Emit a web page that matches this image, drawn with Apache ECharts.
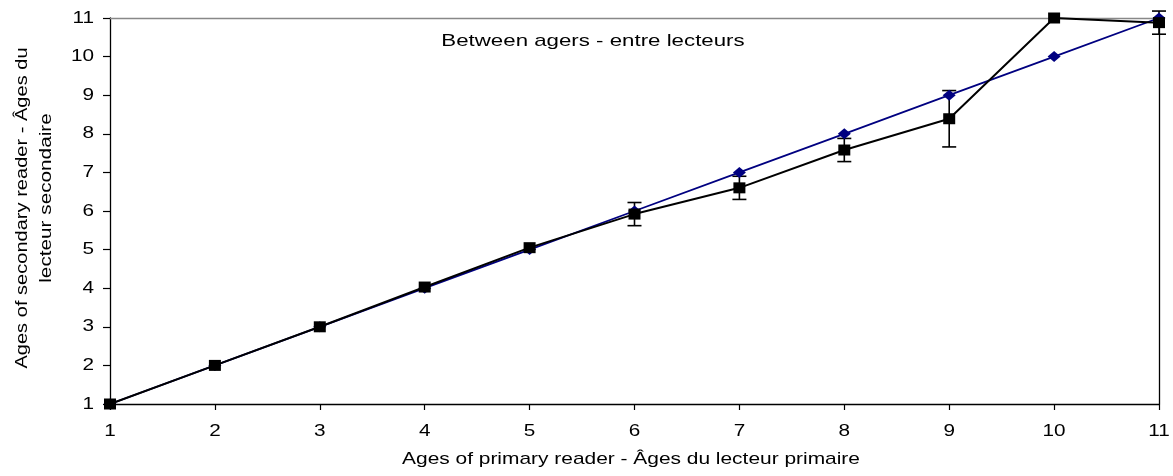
<!DOCTYPE html>
<html>
<head>
<meta charset="utf-8">
<script src="https://cdn.jsdelivr.net/npm/echarts@6/dist/echarts.min.js"></script>
<style>
  html, body { margin: 0; padding: 0; background: #fff; }
  #chart { width: 1173px; height: 476px; }
</style>
</head>
<body>
<div id="chart"></div>
<script>
// Ages assigned by the primary reader (x) vs. the secondary reader (y)
const primaryAges = [1, 2, 3, 4, 5, 6, 7, 8, 9, 10, 11];
const secondaryMean = [1, 2, 3, 4.03, 5.05, 5.92, 6.6, 7.58, 8.39, 11, 10.88];
const secondaryErr = [0, 0, 0, 0, 0, 0.3, 0.3, 0.3, 0.73, 0, 0.3];
const agreementLine = [1, 2, 3, 4, 5, 6, 7, 8, 9, 10, 11];
const tickValues = [1, 2, 3, 4, 5, 6, 7, 8, 9, 10, 11];

const titleText = 'Between agers - entre lecteurs';
const xName = 'Ages of primary reader - Âges du lecteur primaire';
const yNameLines = ['Ages of secondary reader - Âges du', 'lecteur secondaire'];

const FONT = '"Liberation Sans", Arial, sans-serif';
const TEXT_SIZE = 17;

const meanPairs = primaryAges.map((x, i) => [x, secondaryMean[i]]);
const linePairs = primaryAges.map((x, i) => [x, agreementLine[i]]);
const errRows = primaryAges
  .map((x, i) => [x, secondaryMean[i] - secondaryErr[i], secondaryMean[i] + secondaryErr[i]])
  .filter((r, i) => secondaryErr[i] > 0);

const chart = echarts.init(document.getElementById('chart'), null, { renderer: 'canvas' });

const axisCommon = {
  type: 'value',
  min: tickValues[0],
  max: tickValues[tickValues.length - 1],
  interval: 1,
  splitLine: { show: false },
  axisLabel: { show: false }
};

chart.setOption({
  animation: false,
  backgroundColor: '#fff',
  grid: { left: 110, right: 14, top: 18, bottom: 72, containLabel: false },
  xAxis: [
    Object.assign({}, axisCommon, {
      position: 'bottom',
      axisLine: { onZero: false, lineStyle: { color: '#000', width: 1.3 } },
      axisTick: { show: true, inside: false, length: 6, lineStyle: { color: '#000', width: 1.2 } }
    }),
    Object.assign({}, axisCommon, {
      position: 'top',
      axisLine: { onZero: false, lineStyle: { color: '#888', width: 1.3 } },
      axisTick: { show: false }
    })
  ],
  yAxis: [
    Object.assign({}, axisCommon, {
      position: 'left',
      axisLine: { onZero: false, lineStyle: { color: '#000', width: 1.3 } },
      axisTick: { show: true, inside: false, length: 7, lineStyle: { color: '#000', width: 1.2 } }
    }),
    Object.assign({}, axisCommon, {
      position: 'right',
      axisLine: { onZero: false, lineStyle: { color: '#000', width: 1.3 } },
      axisTick: { show: false }
    })
  ],
  series: [
    {
      name: 'error',
      type: 'custom',
      xAxisIndex: 0,
      yAxisIndex: 0,
      z: 1,
      data: errRows,
      encode: { x: 0, y: [1, 2] },
      renderItem: function (params, api) {
        const x = api.value(0);
        const lo = api.coord([x, api.value(1)]);
        const hi = api.coord([x, api.value(2)]);
        const half = 7;
        const style = { stroke: '#000', lineWidth: 1.6 };
        return {
          type: 'group',
          children: [
            { type: 'line', shape: { x1: lo[0], y1: lo[1], x2: hi[0], y2: hi[1] }, style: style },
            { type: 'line', shape: { x1: lo[0] - half, y1: lo[1], x2: lo[0] + half, y2: lo[1] }, style: style },
            { type: 'line', shape: { x1: hi[0] - half, y1: hi[1], x2: hi[0] + half, y2: hi[1] }, style: style }
          ]
        };
      }
    },
    {
      name: 'agreement',
      type: 'line',
      z: 2,
      data: linePairs,
      symbol: 'diamond',
      symbolSize: [13, 11],
      lineStyle: { color: '#000080', width: 1.8 },
      itemStyle: { color: '#000080' }
    },
    {
      name: 'mean',
      type: 'line',
      z: 3,
      data: meanPairs,
      symbol: 'rect',
      symbolSize: [12, 11],
      lineStyle: { color: '#000', width: 2 },
      itemStyle: { color: '#000' }
    }
  ]
});

// Text is drawn as graphic elements so the wide face of the labels can be
// reproduced with a horizontal stretch.
function label(text, x, y, opts) {
  opts = opts || {};
  return {
    type: 'text',
    x: x,
    y: y,
    rotation: opts.rotation || 0,
    scaleX: opts.scaleX || 1,
    silent: true,
    z: 10,
    style: {
      text: text,
      fontFamily: FONT,
      fontSize: opts.fontSize || TEXT_SIZE,
      fill: '#000',
      align: opts.align || 'center',
      verticalAlign: 'middle'
    }
  };
}

const elements = [];
tickValues.forEach(function (v) {
  const px = chart.convertToPixel({ xAxisIndex: 0 }, v);
  elements.push(label(String(v), px, 431, { scaleX: 1.22 }));
  const py = chart.convertToPixel({ yAxisIndex: 0 }, v);
  elements.push(label(String(v), 94, py, { scaleX: 1.22, align: 'right' }));
});
elements.push(label(titleText, 593, 41, { scaleX: 1.31 }));
elements.push(label(xName, 631, 459, { scaleX: 1.23 }));
elements.push(label(yNameLines[0], 22, 208, { scaleX: 1.18, rotation: Math.PI / 2 }));
elements.push(label(yNameLines[1], 46, 198, { scaleX: 1.22, rotation: Math.PI / 2 }));

chart.setOption({ graphic: { elements: elements } });
</script>
</body>
</html>
